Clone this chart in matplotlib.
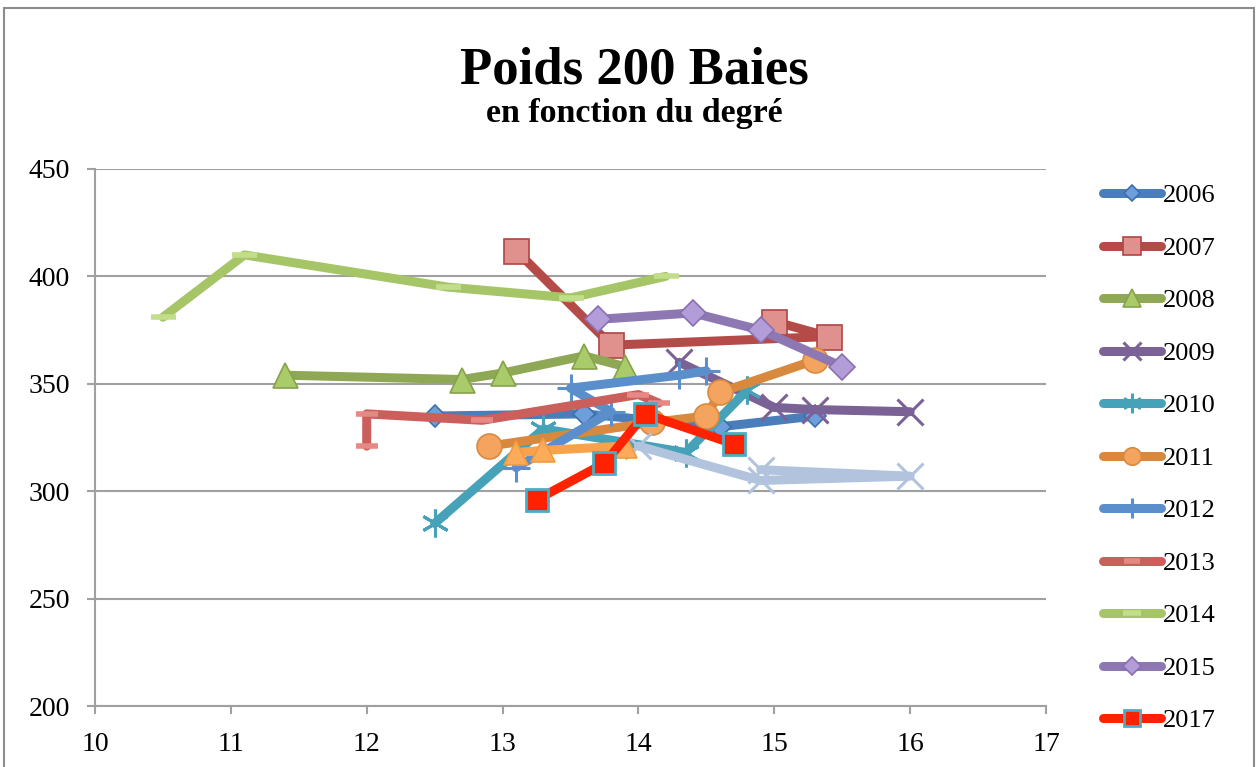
import matplotlib
matplotlib.use("Agg")
import matplotlib.pyplot as plt
from matplotlib.patches import Rectangle

# degree (x) vs weight of 200 berries (y), one list pair per vintage
x_2006 = [12.5, 13.6, 14.6, 15.3]
y_2006 = [335, 336, 330, 335]
x_2007 = [13.1, 13.8, 15.4, 15.0]
y_2007 = [412, 368, 372, 379]
x_2008 = [11.4, 12.7, 13.0, 13.6, 13.9]
y_2008 = [354, 352, 355, 363, 358]
x_2009 = [14.3, 15.0, 15.3, 16.0]
y_2009 = [360, 339, 338, 337]
x_2010 = [12.5, 13.3, 14.35, 14.8]
y_2010 = [285, 329, 318, 347]
x_2011 = [12.9, 14.1, 14.5, 14.6, 15.3]
y_2011 = [321, 332, 335, 346, 361]
x_2012 = [13.1, 13.8, 13.5, 14.3, 14.5]
y_2012 = [311, 337, 348, 354, 356]
x_2013 = [12.0, 12.0, 12.85, 14.0, 14.15]
y_2013 = [321, 336, 333, 345, 341]
x_2014 = [10.5, 11.1, 12.6, 13.5, 14.2]
y_2014 = [381, 410, 395, 390, 400]
x_2015 = [13.7, 14.4, 14.9, 15.5]
y_2015 = [380, 383, 375, 358]
# two series that are drawn but missing from the legend
x_extra_a = [14.0, 14.9, 16.0, 14.9]
y_extra_a = [321, 305, 307, 310]
x_extra_b = [13.1, 13.3, 13.9]
y_extra_b = [318, 319, 321]
x_2017 = [13.25, 13.75, 14.05, 14.7]
y_2017 = [296, 313, 336, 322]

x_ticks = [10, 11, 12, 13, 14, 15, 16, 17]
y_ticks = [200, 250, 300, 350, 400, 450]

SERIF = ["Liberation Serif", "DejaVu Serif"]
plt.rcParams["font.family"] = SERIF

fig = plt.figure(figsize=(12.58, 7.67), dpi=100)
ax = fig.add_axes([95 / 1258, 1 - 706 / 767, (1046 - 95) / 1258, (706 - 169) / 767])

LW = 6.5


def draw(x, y, color, marker, ms, mfc, mec, mew=1.2, label=None, z=2):
    line, = ax.plot(x, y, color=color, lw=LW, marker=marker, ms=ms,
                    markerfacecolor=mfc, markeredgecolor=mec, markeredgewidth=mew,
                    solid_capstyle="round", solid_joinstyle="round",
                    label=label, zorder=z)
    return line


handles = []
handles.append(draw(x_2006, y_2006, "#4A7EBB", "D", 11, "#6C9FDB", "#3F6FA8", label="2006", z=2))
handles.append(draw(x_2007, y_2007, "#B54B48", "s", 18, "#E0918E", "#B04643", label="2007", z=3))
handles.append(draw(x_2008, y_2008, "#8EA856", "^", 18, "#A9CB6A", "#86A24B", label="2008", z=4))
handles.append(draw(x_2009, y_2009, "#7A6296", "x", 19, "#7A6296", "#7A6296", mew=2.2, label="2009", z=5))
handles.append(draw(x_2010, y_2010, "#45A2B8", (6, 2, 0), 20, "#45A2B8", "#45A2B8", mew=2.2, label="2010", z=6))
handles.append(draw(x_2011, y_2011, "#D8893E", "o", 18, "#F4A45E", "#DA8A3F", label="2011", z=7))
handles.append(draw(x_2012, y_2012, "#5B8FCB", "+", 20, "#5B8FCB", "#5B8FCB", mew=2.2, label="2012", z=8))
handles.append(draw(x_2013, y_2013, "#CB5F5B", "_", 16, "#E88885", "#E88885", mew=4, label="2013", z=9))
handles.append(draw(x_2014, y_2014, "#A5C567", "_", 18, "#C3DE8A", "#C3DE8A", mew=4, label="2014", z=10))
handles.append(draw(x_2015, y_2015, "#8E78B3", "D", 13, "#B39DD9", "#8A70B0", label="2015", z=11))
draw(x_extra_a, y_extra_a, "#B2C3DD", "x", 19, "#B2C3DD", "#B2C3DD", mew=2.2, z=12)
draw(x_extra_b, y_extra_b, "#F9A24C", "^", 17, "#FBAB5A", "#F39A3E", z=13)
handles.append(draw(x_2017, y_2017, "#FF2200", "s", 16, "#FF2200", "#4BACC6", mew=2, label="2017", z=14))

ax.set_xlim(10, 17)
ax.set_ylim(200, 450)
ax.set_xticks(x_ticks)
ax.set_yticks(y_ticks)
ax.grid(axis="y", color="#A0A0A0", lw=1.5, zorder=0)
ax.set_axisbelow(True)
for side in ["top", "right"]:
    ax.spines[side].set_visible(False)
for side in ["left", "bottom"]:
    ax.spines[side].set_color("#A0A0A0")
    ax.spines[side].set_linewidth(1.5)
ax.tick_params(axis="both", direction="out", length=6, width=1.5, color="#A0A0A0",
               labelsize=20, labelcolor="black")
ax.tick_params(axis="y", pad=12)
ax.tick_params(axis="x", pad=13)

fig.text(0.504, 1 - 84 / 767, "Poids 200 Baies", ha="center", va="baseline",
         fontsize=38, fontweight="bold")
fig.text(0.504, 1 - 122 / 767, "en fonction du degré", ha="center", va="baseline",
         fontsize=24.5, fontweight="bold")

fig.legend(handles=handles, loc="upper left", bbox_to_anchor=(1103 / 1258, 1 - 184 / 767),
           frameon=False, fontsize=19, handlelength=2.2, handletextpad=0.05,
           labelspacing=1.1, markerscale=0.7, borderaxespad=0, borderpad=0)

fig.patches.append(Rectangle((4 / 1258, -0.01), 1250 / 1258, 1.01 - 8 / 767,
                             transform=fig.transFigure, fill=False,
                             edgecolor="#8C8C8C", lw=1.5))

fig.savefig("out.png", dpi=100)
